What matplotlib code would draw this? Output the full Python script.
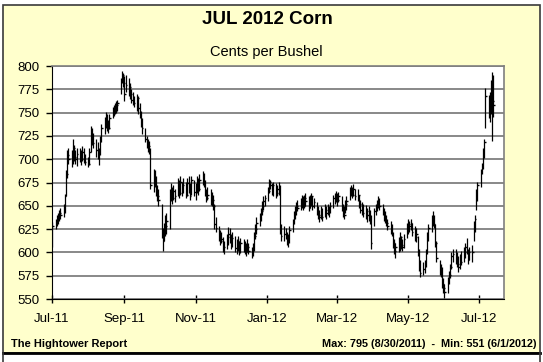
import datetime as dt
import matplotlib
matplotlib.use("Agg")
import matplotlib.pyplot as plt
import matplotlib.dates as mdates
from matplotlib.patches import Rectangle
from matplotlib.lines import Line2D
import pandas as pd

plt.rcParams["font.family"] = ["Liberation Sans", "DejaVu Sans"]

# trading days, Jul 1 2011 .. Jul 13 2012
days = pd.bdate_range("2011-07-01", "2012-07-13")

# daily lows / highs / closes, one line per week (cents per bushel)
lows = [
    606,
    625, 628, 630, 634, 636,  # Jul 4
    638, 642, 660, 680, 695,
    692, 695, 698, 695, 693,
    697, 694, 698, 696, 694,
    692, 694, 708, 715, 712,  # Aug 1
    702, 700, 694, 705, 718,
    727, 734, 730, 728, 732,
    744, 746, 748, 750, 752,
    770, 782, 778, 762, 772,  # Aug 29
    768, 765, 760, 758, 756,
    752, 748, 744, 735, 727,
    718, 712, 708, 706, 668,
    665, 670, 660, 655, 650,
    615, 601, 612, 618, 620,  # Oct 3
    625, 655, 652, 656, 654,
    660, 658, 662, 660, 664,
    658, 660, 664, 656, 662,
    660, 656, 664, 662, 666,  # Oct 31
    672, 670, 660, 654, 656,
    651, 650, 646, 625, 622,
    612, 608, 610, 600, 598,
    604, 608, 610, 604, 606,
    600, 598, 602, 597, 599,  # Dec 5
    600, 598, 596, 600, 598,
    594, 596, 602, 614, 620,
    628, 634, 640, 645, 650,
    655, 664, 668, 662, 660,  # Jan 2
    658, 660, 662, 620, 612,
    612, 614, 608, 606, 610,
    622, 630, 636, 640, 644,
    645, 648, 646, 648, 650,
    644, 648, 650, 646, 648,  # Feb 6
    640, 636, 633, 636, 634,
    638, 636, 640, 638, 642,
    648, 652, 654, 650, 654,
    644, 638, 636, 642, 646,  # Mar 5
    656, 660, 658, 660, 656,
    655, 648, 642, 640, 638,
    636, 633, 634, 630, 604,
    628, 640, 644, 648, 646,  # Apr 2
    640, 634, 632, 628, 624,
    620, 618, 605, 598, 594,
    600, 602, 604, 601, 605,
    615, 620, 622, 624, 618,  # Apr 30
    612, 611, 596, 580, 574,
    576, 578, 584, 598, 612,
    622, 628, 626, 606, 590,
    576, 574, 562, 556, 551,
    556, 566, 572, 582, 590,  # Jun 4
    588, 584, 579, 582, 586,
    590, 594, 598, 588, 592,
    590, 612, 622, 645, 655,
    670, 684, 690, 701, 733,  # Jul 2
    744, 740, 748, 720, 745,
]

highs = [
    633,
    636, 640, 642, 645, 648,
    652, 663, 688, 710, 712,
    710, 722, 715, 710, 712,
    712, 710, 714, 712, 706,
    702, 712, 736, 733, 728,
    722, 718, 712, 725, 738,
    745, 751, 748, 742, 748,
    756, 758, 760, 762, 763,
    787, 795, 793, 789, 790,
    787, 782, 775, 772, 768,
    770, 768, 760, 752, 744,
    733, 725, 722, 720, 712,
    690, 688, 682, 672, 668,
    652, 626, 632, 640, 642,
    668, 675, 670, 672, 668,
    680, 678, 682, 676, 680,
    676, 680, 682, 674, 682,
    678, 674, 682, 680, 684,
    687, 685, 678, 668, 670,
    668, 665, 662, 652, 638,
    628, 624, 622, 616, 612,
    620, 627, 626, 620, 622,
    618, 614, 618, 612, 615,
    614, 612, 610, 614, 610,
    606, 610, 622, 630, 638,
    642, 648, 655, 660, 662,
    670, 679, 678, 674, 676,
    674, 672, 676, 672, 630,
    628, 626, 622, 620, 628,
    636, 644, 650, 654, 656,
    658, 662, 660, 662, 664,
    660, 662, 664, 660, 658,
    654, 650, 646, 650, 648,
    652, 650, 652, 650, 654,
    662, 664, 666, 664, 665,
    660, 652, 650, 656, 660,
    670, 672, 670, 673, 668,
    668, 662, 656, 654, 652,
    651, 648, 650, 646, 640,
    648, 652, 656, 660, 658,
    652, 648, 644, 640, 636,
    634, 630, 622, 614, 610,
    616, 622, 618, 614, 620,
    632, 636, 634, 636, 632,
    628, 626, 618, 604, 592,
    590, 592, 604, 622, 630,
    640, 644, 640, 630, 612,
    592, 588, 584, 572, 566,
    574, 580, 588, 600, 604,
    604, 600, 596, 598, 602,
    606, 610, 615, 604, 606,
    608, 634, 640, 668, 676,
    690, 696, 712, 722, 776,
    769, 772, 785, 794, 790,
]

closes = [
    628,
    632, 636, 638, 642, 640,
    648, 660, 684, 705, 700,
    702, 712, 702, 700, 706,
    704, 700, 708, 702, 697,
    695, 708, 730, 722, 717,
    710, 704, 708, 720, 733,
    740, 745, 736, 733, 744,
    750, 754, 757, 758, 760,
    784, 790, 782, 770, 780,
    778, 770, 764, 762, 760,
    766, 755, 750, 740, 733,
    722, 718, 712, 714, 672,
    680, 676, 668, 660, 656,
    620, 612, 626, 628, 634,
    664, 660, 658, 666, 660,
    672, 664, 676, 668, 672,
    662, 674, 670, 660, 678,
    665, 670, 676, 668, 678,
    682, 675, 664, 658, 662,
    655, 656, 650, 630, 626,
    616, 612, 614, 604, 606,
    616, 620, 618, 612, 615,
    605, 608, 612, 600, 610,
    604, 608, 600, 606, 602,
    598, 605, 618, 625, 632,
    638, 644, 650, 655, 658,
    666, 676, 672, 666, 672,
    664, 668, 670, 622, 618,
    620, 618, 612, 614, 624,
    632, 640, 646, 650, 648,
    652, 656, 650, 658, 655,
    648, 656, 660, 650, 654,
    644, 640, 638, 646, 638,
    646, 642, 648, 644, 650,
    658, 660, 662, 656, 660,
    648, 642, 640, 652, 655,
    664, 668, 662, 668, 660,
    662, 652, 646, 648, 642,
    644, 640, 644, 636, 610,
    644, 648, 652, 656, 650,
    644, 638, 636, 632, 628,
    624, 620, 610, 602, 606,
    604, 616, 608, 606, 614,
    626, 630, 628, 632, 622,
    616, 620, 600, 584, 578,
    582, 588, 600, 618, 626,
    634, 636, 630, 610, 594,
    582, 578, 566, 562, 558,
    570, 576, 584, 596, 598,
    594, 588, 584, 594, 590,
    600, 606, 602, 592, 600,
    600, 628, 636, 660, 672,
    686, 693, 706, 718, 768,
    750, 766, 776, 762, 758,
]

y_ticks = list(range(550, 801, 25))
x_start = dt.date(2011, 7, 1)
x_end = dt.date(2012, 7, 22)

W, H = 543, 362
fig = plt.figure(figsize=(W / 100, H / 100), dpi=100, facecolor="white")

# yellow report panel
fig.add_artist(Rectangle((3 / W, 1 - 353 / H), 537 / W, 348 / H, transform=fig.transFigure,
                         facecolor="#FFFFCC", edgecolor="#3a3a3a", lw=1.2, zorder=0))
fig.add_artist(Line2D([3 / W, 540 / W], [1 - 353 / H] * 2, transform=fig.transFigure,
                      color="black", lw=2))
for xx in (3, 540):
    fig.add_artist(Line2D([xx / W] * 2, [0, 1 - 353 / H], transform=fig.transFigure,
                          color="#3a3a3a", lw=1.2))

ax = fig.add_axes([52 / W, 1 - 299 / H, 452 / W, 233 / H])
ax.set_facecolor("white")

x = mdates.date2num(days.to_pydatetime())
ax.vlines(x, lows, highs, color="black", lw=0.9, zorder=3)
ax.hlines(closes, x, x + 1.3, color="black", lw=1.0, zorder=3)

ax.set_xlim(x_start, x_end)
ax.set_ylim(550, 800)
ax.set_yticks(y_ticks)
ax.yaxis.grid(True, color="#7f7f7f", lw=1.3)
ax.set_axisbelow(True)

ax.xaxis.set_major_locator(mdates.MonthLocator(bymonth=[1, 3, 5, 7, 9, 11]))
ax.xaxis.set_major_formatter(mdates.DateFormatter("%b-%y"))
ax.tick_params(axis="y", direction="out", length=4, width=1, labelsize=9.5, pad=5)
ax.tick_params(axis="x", direction="inout", length=6, width=1, labelsize=9.5, pad=7)

for side in ("left", "bottom"):
    ax.spines[side].set_color("black")
for side in ("top", "right"):
    ax.spines[side].set_color("#7f7f7f")
    ax.spines[side].set_linewidth(1.2)

fig.text(267 / W, 1 - 20 / H, "JUL 2012 Corn", ha="center", va="center",
         fontsize=13.5, fontweight="bold")
fig.text(266 / W, 1 - 52 / H, "Cents per Bushel", ha="center", va="center", fontsize=10.5)
fig.text(11 / W, 1 - 344 / H, "The Hightower Report", ha="left", va="center",
         fontsize=8, fontweight="bold")
fig.text(537 / W, 1 - 344 / H, "Max: 795 (8/30/2011)  -  Min: 551 (6/1/2012)",
         ha="right", va="center", fontsize=7.8, fontweight="bold")

fig.savefig("out.png", dpi=100)
